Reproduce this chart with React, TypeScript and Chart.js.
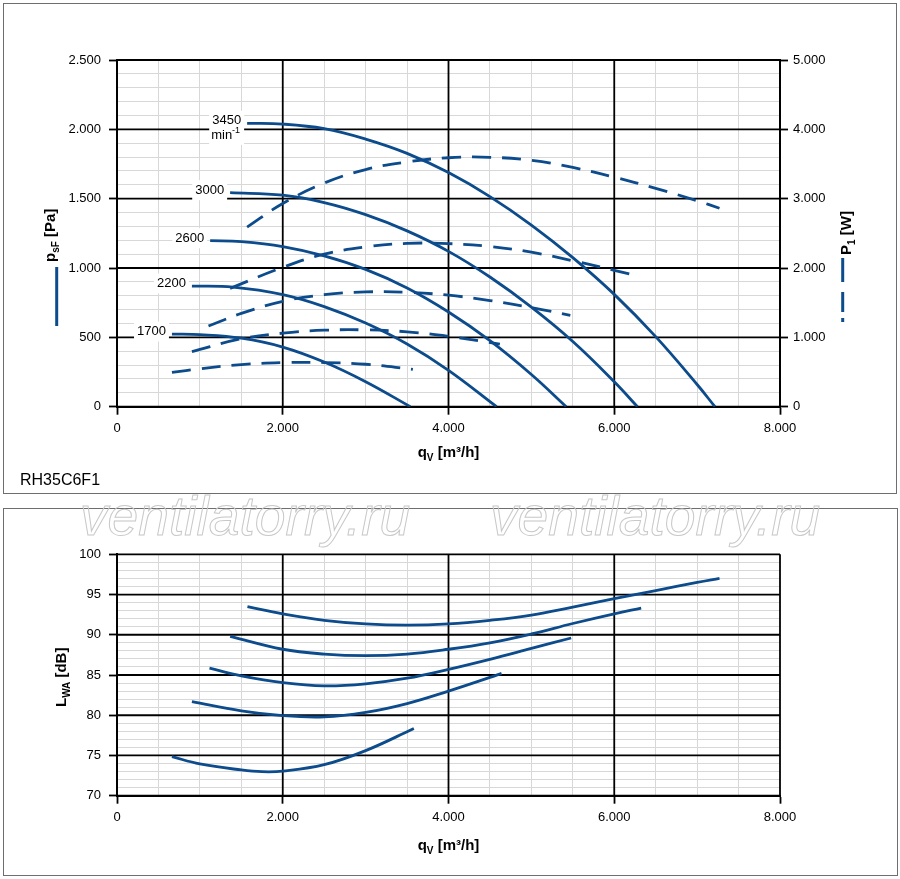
import { useEffect, useRef } from 'react';
import { Chart, registerables } from 'chart.js';
Chart.register(...registerables);

const FONT = '"Liberation Sans", Arial, Helvetica, sans-serif';
const BLUE = '#0c4b8c';
const SPEEDS = ['3450', '3000', '2600', '2200', '1700'];

// Pressure curves psF [Pa] vs qV [m3/h]
const Q_PSF_3450 = [1570, 2000, 2500, 3000, 3500, 4000, 4500, 5000, 5500, 6000, 6500, 7000, 7215];
const PSF_3450 = [2043, 2038, 2005, 1930, 1827, 1688, 1515, 1310, 1075, 810, 505, 160, 0];
const Q_PSF_3000 = [1365, 2000, 2500, 3000, 3500, 4000, 4500, 5000, 5500, 6000, 6280];
const PSF_3000 = [1543, 1525, 1472, 1385, 1268, 1120, 935, 718, 470, 180, 0];
const Q_PSF_2600 = [1124, 1500, 2000, 2500, 3000, 3500, 4000, 4500, 5000, 5420];
const PSF_2600 = [1197, 1190, 1155, 1088, 990, 856, 683, 476, 232, 0];
const Q_PSF_2200 = [904, 1400, 2000, 2500, 3000, 3500, 4000, 4580];
const PSF_2200 = [870, 862, 808, 722, 603, 452, 262, 0];
const Q_PSF_1700 = [663, 1000, 1500, 2000, 2500, 3000, 3540];
const PSF_1700 = [524, 520, 494, 430, 322, 180, 0];

// Power curves P1 [W]
const Q_P1_3450 = [1570, 2000, 2500, 3000, 3500, 4000, 4500, 5000, 5500, 6000, 6500, 7000, 7270];
const P1_3450 = [2590, 2930, 3225, 3420, 3530, 3590, 3597, 3552, 3450, 3310, 3150, 2970, 2862];
const Q_P1_3000 = [1365, 2000, 2500, 3000, 3500, 4000, 4500, 5000, 5500, 6000, 6310];
const P1_3000 = [1707, 2010, 2200, 2305, 2355, 2352, 2310, 2228, 2105, 1967, 1880];
const Q_P1_2600 = [1104, 1500, 2000, 2500, 3000, 3500, 4000, 4500, 5000, 5470];
const P1_2600 = [1164, 1345, 1520, 1615, 1655, 1650, 1608, 1530, 1430, 1318];
const Q_P1_2200 = [904, 1500, 2000, 2500, 3000, 3500, 4000, 4620];
const P1_2200 = [793, 980, 1060, 1103, 1108, 1080, 1015, 904];
const Q_P1_1700 = [663, 1000, 1500, 2000, 2500, 3000, 3570];
const P1_1700 = [496, 546, 608, 636, 637, 612, 539];

// Sound power LWA [dB]
const Q_LWA_3450 = [1574, 2000, 2500, 3000, 3500, 4000, 4500, 5000, 5500, 6000, 6500, 7000, 7270];
const LWA_3450 = [93.5, 92.6, 91.8, 91.35, 91.2, 91.35, 91.8, 92.45, 93.45, 94.5, 95.5, 96.5, 97.0];
const Q_LWA_3000 = [1365, 2000, 2500, 3000, 3500, 4000, 4500, 5000, 5500, 6000, 6325];
const LWA_3000 = [89.8, 88.2, 87.6, 87.4, 87.6, 88.2, 89.0, 90.1, 91.4, 92.6, 93.3];
const Q_LWA_2600 = [1116, 1500, 2000, 2500, 3000, 3500, 4000, 4500, 5000, 5480];
const LWA_2600 = [85.85, 84.9, 84.05, 83.65, 83.9, 84.6, 85.7, 86.95, 88.3, 89.6];
const Q_LWA_2200 = [904, 1500, 2000, 2500, 3000, 3500, 4000, 4500, 4640];
const LWA_2200 = [81.7, 80.55, 79.95, 79.8, 80.35, 81.45, 83.0, 84.7, 85.2];
const Q_LWA_1700 = [663, 1000, 1500, 1750, 2000, 2500, 3000, 3582];
const LWA_1700 = [74.85, 73.95, 73.2, 72.98, 73.05, 73.85, 75.6, 78.35];

const X_MIN = 0, X_MAX = 8000, X_STEP = 500, X_MAJOR = 2000;
const PSF_MIN = 0, PSF_MAX = 2500, PSF_STEP = 100, PSF_MAJOR = 500;
const P1_MIN = 0, P1_MAX = 5000, P1_STEP = 1000;
const LWA_MIN = 70, LWA_MAX = 100, LWA_STEP = 1, LWA_MAJOR = 5;

const PSF_SERIES = [
  { q: Q_PSF_3450, v: PSF_3450 }, { q: Q_PSF_3000, v: PSF_3000 }, { q: Q_PSF_2600, v: PSF_2600 },
  { q: Q_PSF_2200, v: PSF_2200 }, { q: Q_PSF_1700, v: PSF_1700 },
];
const P1_SERIES = [
  { q: Q_P1_3450, v: P1_3450 }, { q: Q_P1_3000, v: P1_3000 }, { q: Q_P1_2600, v: P1_2600 },
  { q: Q_P1_2200, v: P1_2200 }, { q: Q_P1_1700, v: P1_1700 },
];
const LWA_SERIES = [
  { q: Q_LWA_3450, v: LWA_3450 }, { q: Q_LWA_3000, v: LWA_3000 }, { q: Q_LWA_2600, v: LWA_2600 },
  { q: Q_LWA_2200, v: LWA_2200 }, { q: Q_LWA_1700, v: LWA_1700 },
];

const fmt = (v: number) => {
  const s = Math.round(v).toString();
  return s.length > 3 ? s.slice(0, -3) + '.' + s.slice(-3) : s;
};

const toPts = (q: number[], v: number[]) => q.map((x, i) => ({ x, y: v[i] }));

type Part = { t: string; f: string; dy?: number };
function drawRich(ctx: CanvasRenderingContext2D, parts: Part[], x: number, y: number, align: 'left' | 'center' | 'right') {
  let total = 0;
  parts.forEach((p) => { ctx.font = p.f; total += ctx.measureText(p.t).width; });
  let cx = align === 'left' ? x : align === 'center' ? x - total / 2 : x - total;
  ctx.textAlign = 'left';
  parts.forEach((p) => {
    ctx.font = p.f;
    ctx.fillText(p.t, cx, y + (p.dy || 0));
    cx += ctx.measureText(p.t).width;
  });
  return total;
}
function drawRotated(ctx: CanvasRenderingContext2D, parts: Part[], x: number, y: number) {
  ctx.save();
  ctx.translate(x, y);
  ctx.rotate(-Math.PI / 2);
  ctx.textBaseline = 'alphabetic';
  drawRich(ctx, parts, 0, 0, 'left');
  ctx.restore();
}
const B15 = `bold 15px ${FONT}`;
const B10 = `bold 10px ${FONT}`;

const isMajorOf = (v: number, major: number) => Math.abs(v % major) < 1e-6;

// Minor lines come from the library grid; major lines are drawn on top by the decor plugins
function gridFor(major: number) {
  const isMajor = (c: any) => c.tick && isMajorOf(c.tick.value, major);
  return {
    color: (c: any) => (isMajor(c) ? 'rgba(0,0,0,0)' : '#d8d8d8'),
    lineWidth: 1,
    tickColor: (c: any) => (isMajor(c) ? '#000' : 'rgba(0,0,0,0)'),
    tickWidth: 1.8,
    tickLength: 8,
  };
}

function drawMajors(chart: any, majors: { id: string; major: number }[]) {
  const ctx: CanvasRenderingContext2D = chart.ctx;
  const a = chart.chartArea;
  ctx.save();
  ctx.strokeStyle = '#000';
  ctx.lineWidth = 1.8;
  majors.forEach(({ id, major }) => {
    const sc = chart.scales[id];
    sc.ticks.forEach((t: any) => {
      if (!isMajorOf(t.value, major)) return;
      const p = sc.getPixelForValue(t.value);
      ctx.beginPath();
      if (sc.isHorizontal()) { ctx.moveTo(p, a.top); ctx.lineTo(p, a.bottom); }
      else { ctx.moveTo(a.left, p); ctx.lineTo(a.right, p); }
      ctx.stroke();
    });
  });
  ctx.restore();
}

function xAxis(height: number) {
  return {
    type: 'linear' as const,
    min: X_MIN, max: X_MAX,
    grid: gridFor(X_MAJOR),
    border: { display: true, color: '#000', width: 2 },
    ticks: {
      stepSize: X_STEP, autoSkip: false, maxRotation: 0, padding: 6, color: '#000',
      font: { size: 13, family: FONT },
      callback: (v: any) => (Number(v) % X_MAJOR === 0 ? fmt(Number(v)) : ''),
    },
    afterFit: (s: any) => { s.height = height; },
  };
}

const lineStyle = { borderColor: BLUE, borderWidth: 2.8, pointRadius: 0, fill: false, tension: 0.4, borderCapStyle: 'butt' as const };

export default function App() {
  const topRef = useRef<HTMLCanvasElement>(null);
  const botRef = useRef<HTMLCanvasElement>(null);
  const wmRef = useRef<HTMLCanvasElement>(null);

  useEffect(() => {
    const topDecor = {
      id: 'topDecor',
      beforeDatasetsDraw(chart: any) {
        drawMajors(chart, [{ id: 'x', major: X_MAJOR }, { id: 'y', major: PSF_MAJOR }]);
        const ctx: CanvasRenderingContext2D = chart.ctx;
        const xs = chart.scales.x, ys = chart.scales.y;
        ctx.save();
        PSF_SERIES.forEach((s, i) => {
          const px = xs.getPixelForValue(s.q[0]);
          const py = ys.getPixelForValue(s.v[0]);
          const right = px - 6;
          const cy = py - 2.5;
          ctx.font = `13px ${FONT}`;
          const w = ctx.measureText(SPEEDS[i]).width;
          const bottom = i === 0 ? cy + 24 : cy + 10;
          ctx.fillStyle = '#fff';
          ctx.fillRect(right - w - 3, cy - 10, w + 6, bottom - (cy - 10));
          ctx.fillStyle = '#000';
          ctx.textBaseline = 'middle';
          ctx.textAlign = 'right';
          ctx.fillText(SPEEDS[i], right, cy);
          if (i === 0) {
            drawRich(ctx, [{ t: 'min', f: `13px ${FONT}` }, { t: '-1', f: `9px ${FONT}`, dy: -5 }], right - 1, cy + 15, 'right');
          }
        });
        ctx.restore();
      },
      afterDraw(chart: any) {
        const ctx: CanvasRenderingContext2D = chart.ctx;
        ctx.save();
        ctx.fillStyle = '#000';
        ctx.textBaseline = 'alphabetic';
        drawRich(ctx, [{ t: 'q', f: B15 }, { t: 'V', f: B10, dy: 4 }, { t: ' [m³/h]', f: B15 }], 448.5, 457, 'center');
        drawRotated(ctx, [{ t: 'p', f: B15 }, { t: 'sF', f: B10, dy: 4 }, { t: ' [Pa]', f: B15 }], 54.7, 262);
        drawRotated(ctx, [{ t: 'P', f: B15 }, { t: '1', f: B10, dy: 4 }, { t: ' [W]', f: B15 }], 850.7, 255);
        ctx.strokeStyle = BLUE;
        ctx.lineWidth = 3;
        ctx.lineCap = 'butt';
        const seg = (x: number, y1: number, y2: number) => { ctx.beginPath(); ctx.moveTo(x, y1); ctx.lineTo(x, y2); ctx.stroke(); };
        seg(56.7, 267, 326);
        seg(842.7, 258, 282);
        seg(842.7, 292, 312);
        seg(842.7, 318, 322);
        ctx.font = `16px ${FONT}`;
        ctx.textAlign = 'left';
        ctx.fillStyle = '#000';
        ctx.fillText('RH35C6F1', 20, 485);
        ctx.restore();
      },
    };

    const botDecor = {
      id: 'botDecor',
      beforeDatasetsDraw(chart: any) {
        drawMajors(chart, [{ id: 'x', major: X_MAJOR }, { id: 'y', major: LWA_MAJOR }]);
      },
      afterDraw(chart: any) {
        const ctx: CanvasRenderingContext2D = chart.ctx;
        ctx.save();
        ctx.fillStyle = '#000';
        ctx.textBaseline = 'alphabetic';
        drawRich(ctx, [{ t: 'q', f: B15 }, { t: 'V', f: B10, dy: 4 }, { t: ' [m³/h]', f: B15 }], 448.5, 350, 'center');
        drawRotated(ctx, [{ t: 'L', f: B15 }, { t: 'WA', f: B10, dy: 4 }, { t: ' [dB]', f: B15 }], 66, 207);
        ctx.restore();
      },
    };

    const top = new Chart(topRef.current as HTMLCanvasElement, {
      type: 'line',
      data: {
        datasets: [
          ...PSF_SERIES.map((s, i) => ({ label: 'psF ' + SPEEDS[i], data: toPts(s.q, s.v), yAxisID: 'y', ...lineStyle })),
          ...P1_SERIES.map((s, i) => ({ label: 'P1 ' + SPEEDS[i], data: toPts(s.q, s.v), yAxisID: 'y2', borderDash: [19, 11], ...lineStyle })),
        ],
      },
      options: {
        responsive: false,
        animation: false,
        events: [],
        layout: { padding: { top: 60, left: 0, right: 0, bottom: 0 } },
        plugins: { legend: { display: false }, tooltip: { enabled: false } },
        scales: {
          x: xAxis(88.3),
          y: {
            type: 'linear', position: 'left', min: PSF_MIN, max: PSF_MAX,
            grid: gridFor(PSF_MAJOR),
            border: { display: true, color: '#000', width: 2 },
            ticks: {
              stepSize: PSF_STEP, autoSkip: false, padding: 8, color: '#000', font: { size: 13, family: FONT },
              callback: (v: any) => (Number(v) % PSF_MAJOR === 0 ? fmt(Number(v)) : ''),
            },
            afterFit: (s: any) => { s.width = 117; },
          },
          y2: {
            type: 'linear', position: 'right', min: P1_MIN, max: P1_MAX,
            grid: { drawOnChartArea: false, tickColor: '#000', tickWidth: 1.8, tickLength: 8 },
            border: { display: true, color: '#000', width: 2 },
            ticks: {
              stepSize: P1_STEP, autoSkip: false, padding: 5, color: '#000', font: { size: 13, family: FONT },
              callback: (v: any) => fmt(Number(v)),
            },
            afterFit: (s: any) => { s.width = 120; },
          },
        },
      } as any,
      plugins: [topDecor],
    });

    const bot = new Chart(botRef.current as HTMLCanvasElement, {
      type: 'line',
      data: {
        datasets: LWA_SERIES.map((s, i) => ({ label: 'LWA ' + SPEEDS[i], data: toPts(s.q, s.v), ...lineStyle })),
      },
      options: {
        responsive: false,
        animation: false,
        events: [],
        layout: { padding: { top: 54.3, left: 0, right: 120, bottom: 0 } },
        plugins: { legend: { display: false }, tooltip: { enabled: false } },
        scales: {
          x: xAxis(83.3),
          y: {
            type: 'linear', position: 'left', min: LWA_MIN, max: LWA_MAX,
            grid: gridFor(LWA_MAJOR),
            border: { display: true, color: '#000', width: 2 },
            ticks: {
              stepSize: LWA_STEP, autoSkip: false, padding: 8, color: '#000', font: { size: 13, family: FONT },
              callback: (v: any) => (Number(v) % LWA_MAJOR === 0 ? String(v) : ''),
            },
            afterFit: (s: any) => { s.width = 117; },
          },
        },
      } as any,
      plugins: [botDecor],
    });

    // watermark
    const wm = wmRef.current as HTMLCanvasElement;
    const wctx = wm.getContext('2d') as CanvasRenderingContext2D;
    wctx.clearRect(0, 0, 900, 879);
    const text = 'ventilatorry.ru';
    wctx.font = `italic 54px ${FONT}`;
    const w0 = wctx.measureText(text).width;
    const size = (54 * 330) / w0;
    wctx.font = `italic ${size.toFixed(1)}px ${FONT}`;
    wctx.strokeStyle = '#c8c8c8';
    wctx.lineWidth = 1;
    wctx.textBaseline = 'alphabetic';
    wctx.textAlign = 'left';
    wctx.strokeText(text, 80, 535);
    wctx.strokeText(text, 490, 535);

    return () => { top.destroy(); bot.destroy(); };
  }, []);

  const abs = (o: any) => ({ position: 'absolute' as const, ...o });
  return (
    <div style={abs({ left: 0, top: 0, width: 900, height: 879, background: '#fff', overflow: 'hidden' })}>
      <canvas ref={topRef} width={900} height={495} style={abs({ left: 0, top: 0, width: 900, height: 495 })} />
      <canvas ref={botRef} width={900} height={379} style={abs({ left: 0, top: 500, width: 900, height: 379 })} />
      <div style={abs({ left: 3, top: 3, width: 892, height: 489, border: '1px solid #6e6e6e', pointerEvents: 'none' })} />
      <div style={abs({ left: 3, top: 508, width: 893, height: 366, border: '1px solid #6e6e6e', pointerEvents: 'none' })} />
      <canvas ref={wmRef} width={900} height={879} style={abs({ left: 0, top: 0, width: 900, height: 879, pointerEvents: 'none' })} />
    </div>
  );
}
